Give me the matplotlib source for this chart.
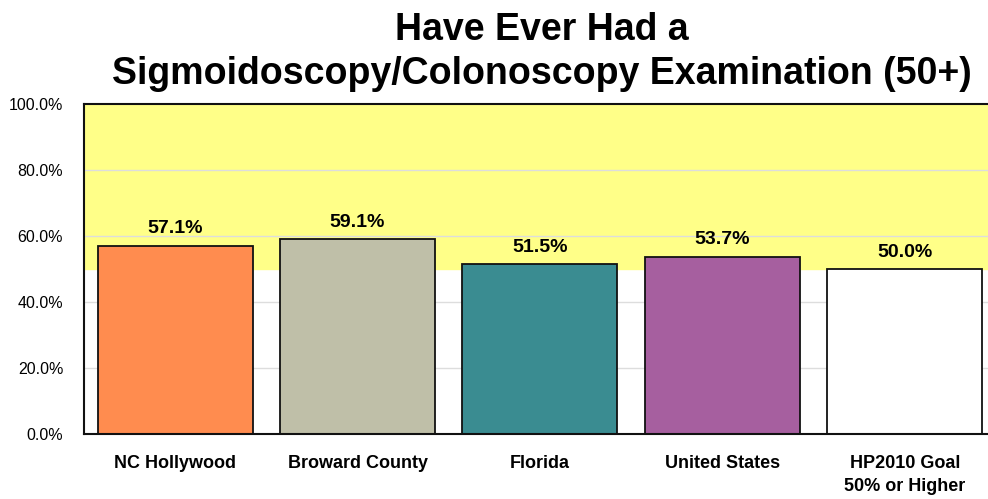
import matplotlib.pyplot as plt
import numpy as np

# Share of adults 50+ who ever had a sigmoidoscopy/colonoscopy
places = ['NC Hollywood', 'Broward County', 'Florida', 'United States', 'HP2010 Goal\n50% or Higher']
rates = [57.1, 59.1, 51.5, 53.7, 50.0]
colors = ['#FF8C4F', '#BFBFA8', '#3A8C91', '#A65F9F', '#FFFFFF']
goal = 50.0
yticks = [0, 20, 40, 60, 80, 100]

fig = plt.figure(figsize=(9.88, 4.99), dpi=100)
ax = fig.add_axes([0.085, 0.1303, 0.923, 0.6613])

x = np.arange(len(places))
ax.set_xlim(-0.5, len(places) - 0.5)
ax.set_ylim(0, 100)

# yellow band marks the goal region
ax.axhspan(goal, 100, color='#FFFF88', zorder=0)
for t in yticks[1:-1]:
    ax.axhline(t, color='#DDDDDD', lw=1, zorder=1)

ax.bar(x, rates, width=0.85, color=colors, edgecolor='#111111', linewidth=1.3, zorder=2)

bold = ['Liberation Sans', 'DejaVu Sans']
for xi, v in zip(x, rates):
    ax.annotate(f'{v:.1f}%', (xi, v), xytext=(0, 6), textcoords='offset points',
                ha='center', va='bottom', fontsize=14, fontweight='bold', family=bold)

ax.set_yticks(yticks)
ax.set_yticklabels([f'{t:.1f}%' for t in yticks], family='Liberation Sans', fontsize=11.5)
ax.set_xticks(x)
ax.set_xticklabels(places, family=bold, fontsize=13, fontweight='bold', linespacing=1.5)
ax.tick_params(axis='y', length=0, pad=15)
ax.tick_params(axis='x', length=0, pad=15)

for s in ['left', 'top', 'bottom', 'right']:
    ax.spines[s].set_color('#111111')
    ax.spines[s].set_linewidth(1.5)

fig.text(0.548, 0.92, 'Have Ever Had a', ha='center', va='baseline',
         fontsize=27, fontweight='bold', family='Liberation Sans')
fig.text(0.548, 0.832, 'Sigmoidoscopy/Colonoscopy Examination (50+)', ha='center', va='baseline',
         fontsize=27, fontweight='bold', family='Liberation Sans')

fig.savefig('out.png', dpi=100)
